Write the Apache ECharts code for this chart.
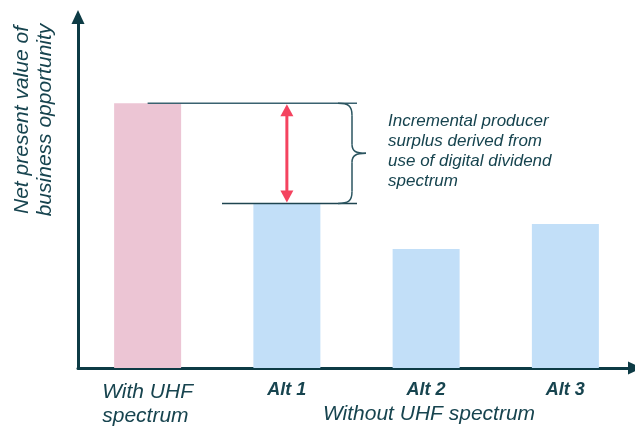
<!DOCTYPE html>
<html>
<head>
<meta charset="utf-8">
<style>
  html, body { margin: 0; padding: 0; background: #ffffff; }
  #chart { width: 635px; height: 430px; }
</style>
<script src="https://cdn.jsdelivr.net/npm/echarts@6/dist/echarts.min.js"></script>
</head>
<body>
<div id="chart"></div>
<script>
// Scenario categories and net present value (relative units)
const categories = ['With UHF\nspectrum', 'Alt 1', 'Alt 2', 'Alt 3'];
const npvValues = [75.4, 46.9, 33.9, 41];
const groupLabel = 'Without UHF spectrum';
const yTitle = 'Net present value of\nbusiness opportunity';
const noteText = 'Incremental producer\nsurplus derived from\nuse of digital dividend\nspectrum';

const AXIS = '#0d3b45';
const INK = '#17444f';
const PINK = '#ecc5d4';
const BLUE = '#c2dff8';
const RED = '#f4435f';
const FONT = '"Liberation Sans", Arial, sans-serif';

const chart = echarts.init(document.getElementById('chart'), null, { renderer: 'canvas' });

chart.setOption({
  animation: false,
  backgroundColor: '#ffffff',
  grid: { left: 78, right: 0, top: 17, bottom: 62 },
  xAxis: {
    type: 'category',
    data: categories,
    axisTick: { show: false },
    axisLine: {
      lineStyle: { color: AXIS, width: 3 },
      symbol: ['none', 'triangle'],
      symbolSize: [13, 14]
    },
    axisLabel: {
      margin: 12,
      interval: 0,
      formatter: (v, i) => i === 0
        ? v.split('\n').map(s => '{big|' + s + '}').join('\n')
        : '{alt|' + v + '}',
      rich: {
        big: { fontFamily: FONT, fontStyle: 'italic', fontSize: 21, lineHeight: 24, color: INK, align: 'left' },
        alt: { fontFamily: FONT, fontStyle: 'italic', fontWeight: 'bold', fontSize: 18, lineHeight: 20, color: INK }
      }
    }
  },
  yAxis: {
    type: 'value',
    min: 0,
    max: 100,
    splitLine: { show: false },
    axisTick: { show: false },
    axisLabel: { show: false },
    axisLine: {
      show: true,
      lineStyle: { color: AXIS, width: 3 },
      symbol: ['none', 'triangle'],
      symbolSize: [13, 14]
    }
  },
  series: [{
    type: 'bar',
    data: npvValues,
    barWidth: 67,
    itemStyle: { color: p => (p.dataIndex === 0 ? PINK : BLUE) }
  }]
});

// Annotation: surplus bracket between "With UHF" and "Alt 1"
const xWith = chart.convertToPixel({ xAxisIndex: 0 }, 0);
const xAlt1 = chart.convertToPixel({ xAxisIndex: 0 }, 1);
const yHigh = chart.convertToPixel({ yAxisIndex: 0 }, npvValues[0]);
const yLow = chart.convertToPixel({ yAxisIndex: 0 }, npvValues[1]);
const yMid = (yHigh + yLow) / 2;
const refEnd = 357;
const b0 = 338, b1 = 352, b2 = 366;
const head = 13, half = 6.5;

const braceStyle = { stroke: '#2b5560', lineWidth: 1.5, fill: null };
const curve = (x1, y1, cpx1, cpy1, cpx2, cpy2, x2, y2) => ({
  type: 'bezierCurve', z: 10, style: braceStyle,
  shape: { x1, y1, cpx1, cpy1, cpx2, cpy2, x2, y2 }
});
const seg = (x1, y1, x2, y2, style) => ({
  type: 'line', z: 10, style: style || braceStyle, shape: { x1, y1, x2, y2 }
});

chart.setOption({
  graphic: [
    // reference levels
    seg(xWith, yHigh, refEnd, yHigh, { stroke: '#3a6270', lineWidth: 1.5 }),
    seg(222, yLow, refEnd, yLow, { stroke: '#1f4550', lineWidth: 1.5 }),
    // double-headed difference arrow
    { type: 'line', shape: { x1: xAlt1, y1: yHigh + head - 1, x2: xAlt1, y2: yLow - head + 1 },
      style: { stroke: RED, lineWidth: 3 }, z: 11 },
    { type: 'polygon', shape: { points: [[xAlt1, yHigh + 1], [xAlt1 - half, yHigh + head], [xAlt1 + half, yHigh + head]] },
      style: { fill: RED }, z: 11 },
    { type: 'polygon', shape: { points: [[xAlt1, yLow - 1], [xAlt1 - half, yLow - head], [xAlt1 + half, yLow - head]] },
      style: { fill: RED }, z: 11 },
    // curly brace
    curve(b0, yHigh, b0 + 10, yHigh, b1, yHigh + 2, b1, yHigh + 12),
    seg(b1, yHigh + 12, b1, yMid - 9),
    curve(b1, yMid - 9, b1, yMid - 2, b1 + 4, yMid, b2, yMid),
    curve(b2, yMid, b1 + 4, yMid, b1, yMid + 2, b1, yMid + 9),
    seg(b1, yMid + 9, b1, yLow - 12),
    curve(b1, yLow - 12, b1, yLow - 2, b0 + 10, yLow, b0, yLow),
    // explanatory note
    { type: 'text', x: 388, y: 111, z: 12,
      style: { text: noteText, font: 'italic 17px ' + FONT, fill: INK, lineHeight: 20,
               align: 'left', verticalAlign: 'top' } },
    // y-axis title
    { type: 'text', x: 34, y: 120, rotation: Math.PI / 2, z: 12,
      style: { text: yTitle, font: 'italic 21px ' + FONT, fill: INK, lineHeight: 23,
               align: 'center', verticalAlign: 'middle' } },
    // group label under the alternatives
    { type: 'text', x: 429, y: 414, z: 12,
      style: { text: groupLabel, font: 'italic 21px ' + FONT, fill: INK,
               align: 'center', verticalAlign: 'middle' } }
  ]
});
</script>
</body>
</html>
